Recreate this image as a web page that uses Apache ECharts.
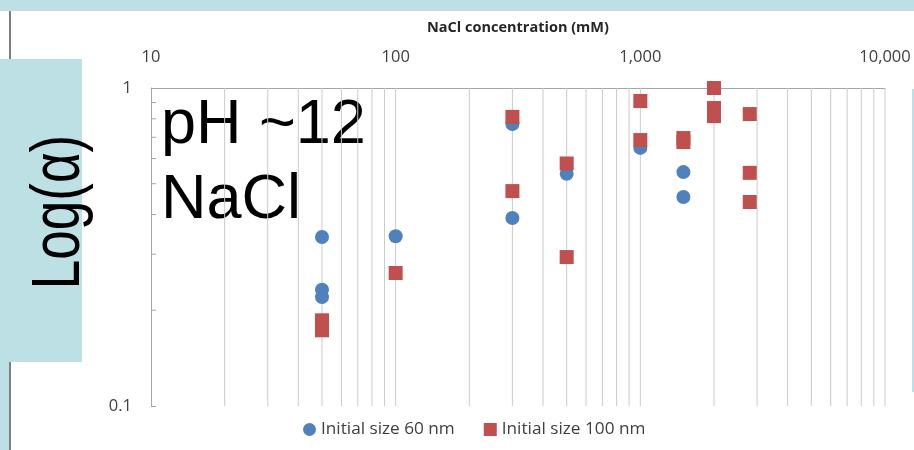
<!DOCTYPE html>
<html>
<head>
<meta charset="utf-8">
<script src="https://cdn.jsdelivr.net/npm/echarts@6/dist/echarts.min.js"></script>
<style>
  html, body { margin: 0; padding: 0; background: #ffffff; }
  #chart { width: 914px; height: 450px; }
</style>
</head>
<body>
<div id="chart"></div>
<script>
// NaCl concentration (mM) and attachment efficiency for the 60 nm particles
const conc60 = [50, 50, 50, 100, 300, 300, 500, 1000, 1500, 1500];
const alpha60 = [0.340, 0.232, 0.220, 0.342, 0.770, 0.390, 0.537, 0.648, 0.544, 0.454];

// NaCl concentration (mM) and attachment efficiency for the 100 nm particles
const conc100 = [50, 50, 100, 300, 300, 500, 500, 1000, 1000, 1500, 1500, 2000, 2000, 2000, 2800, 2800, 2800];
const alpha100 = [0.186, 0.173, 0.262, 0.811, 0.474, 0.579, 0.294, 0.910, 0.686, 0.696, 0.676, 1.0, 0.865, 0.816, 0.828, 0.541, 0.438];

const seriesNames = ['Initial size 60 nm', 'Initial size 100 nm'];

// Axis ticks and labels
const xTickValues = [10, 100, 1000, 10000];
const xTickLabels = ['10', '100', '1,000', '10,000'];
const yTickValues = [0.1, 1];
const yTickLabels = ['0.1', '1'];

// Vertical log-paper grid lines (every 1..9 step of each decade)
const xGridValues = [20, 30, 40, 50, 60, 70, 80, 90, 100,
  200, 300, 400, 500, 600, 700, 800, 900, 1000,
  2000, 3000, 4000, 5000, 6000, 7000, 8000, 9000, 10000];
// Minor ticks along the left axis
const yMinorTicks = [0.2, 0.3, 0.4, 0.5, 0.6, 0.7, 0.8, 0.9];

const xTitle = 'NaCl concentration (mM)';
const yTitle = 'Log(\u03b1)';
const noteLines = ['pH ~12', 'NaCl'];

const TEAL = '#bce0e3';
const AXIS_GRAY = '#a6a6a6';
const GRID_GRAY = '#cacaca';
const LABEL = '#404040';
const FONT = '"Open Sans", "Liberation Sans", sans-serif';

function labelFor(values, labels, v) {
  for (let i = 0; i < values.length; i++) {
    if (Math.abs(Math.log10(values[i]) - Math.log10(v)) < 1e-6) return labels[i];
  }
  return '';
}

const chart = echarts.init(document.getElementById('chart'), null, { renderer: 'canvas' });

chart.setOption({
  animation: false,
  backgroundColor: '#ffffff',
  grid: { left: 151, right: 29, top: 88, bottom: 44, containLabel: false },
  xAxis: {
    type: 'log',
    logBase: 10,
    min: 10,
    max: 10000,
    position: 'top',
    name: xTitle,
    nameLocation: 'middle',
    nameGap: 53,
    nameTextStyle: { fontFamily: FONT, fontSize: 14.5, fontWeight: 'bold', color: '#262626' },
    axisLine: { show: true, lineStyle: { color: AXIS_GRAY, width: 1 } },
    axisTick: { show: false },
    splitLine: { show: false },
    axisLabel: {
      margin: 22,
      fontFamily: FONT,
      fontSize: 16.5,
      color: LABEL,
      formatter: v => labelFor(xTickValues, xTickLabels, v)
    }
  },
  yAxis: {
    type: 'log',
    logBase: 10,
    min: 0.1,
    max: 1,
    axisLine: { show: true, lineStyle: { color: AXIS_GRAY, width: 1 } },
    axisTick: { show: true, inside: true, length: 5, lineStyle: { color: AXIS_GRAY } },
    splitLine: { show: false },
    axisLabel: {
      margin: 19,
      fontFamily: FONT,
      fontSize: 16.5,
      color: LABEL,
      formatter: v => labelFor(yTickValues, yTickLabels, v)
    }
  },
  legend: {
    data: seriesNames.map((n, i) => ({ name: n, icon: i === 0 ? 'circle' : 'rect' })),
    left: 298,
    top: 416,
    itemWidth: 13,
    itemHeight: 13,
    itemGap: 29,
    textStyle: { fontFamily: FONT, fontSize: 17.2, color: LABEL }
  },
  graphic: [
    // teal frame pieces
    { type: 'rect', shape: { x: 0, y: 0, width: 914, height: 11 }, style: { fill: TEAL }, silent: true },
    { type: 'rect', shape: { x: 0, y: 59, width: 82, height: 303 }, style: { fill: TEAL }, silent: true },
    { type: 'rect', shape: { x: 0, y: 362, width: 9, height: 88 }, style: { fill: TEAL }, silent: true },
    { type: 'rect', shape: { x: 912, y: 89, width: 2, height: 303 }, style: { fill: TEAL }, silent: true },
    { type: 'rect', shape: { x: 9, y: 11, width: 2, height: 48 }, style: { fill: '#7f7f7f' }, silent: true },
    { type: 'rect', shape: { x: 9, y: 362, width: 2, height: 88 }, style: { fill: '#7f7f7f' }, silent: true },
    // vertical axis title
    {
      type: 'text',
      x: 60,
      y: 212,
      rotation: Math.PI / 2,
      scaleX: 0.78,
      silent: true,
      style: {
        text: yTitle,
        fontFamily: '"Liberation Sans", Arial, sans-serif',
        fontSize: 68,
        fill: '#000000',
        align: 'center',
        verticalAlign: 'middle'
      }
    },
    // condition note
    {
      type: 'text', x: 161, y: 126, silent: true,
      style: { text: noteLines[0], fontFamily: '"Liberation Sans", Arial, sans-serif', fontSize: 63, fill: '#000000', align: 'left', verticalAlign: 'middle' }
    },
    {
      type: 'text', x: 161, y: 201, silent: true,
      style: { text: noteLines[1], fontFamily: '"Liberation Sans", Arial, sans-serif', fontSize: 63, fill: '#000000', align: 'left', verticalAlign: 'middle' }
    }
  ],
  series: [
    {
      name: 'gridlines',
      type: 'custom',
      silent: true,
      z: 1,
      encode: { x: 0, y: 1 },
      data: xGridValues.map(v => [v, 1]),
      renderItem: (params, api) => {
        const v = api.value(0);
        const top = api.coord([v, 1]);
        const bottom = api.coord([v, 0.1]);
        return {
          type: 'line',
          shape: { x1: top[0], y1: top[1], x2: bottom[0], y2: bottom[1] },
          style: { stroke: GRID_GRAY, lineWidth: 1 }
        };
      }
    },
    {
      name: 'yminor',
      type: 'custom',
      silent: true,
      z: 3,
      encode: { x: 0, y: 1 },
      data: yMinorTicks.map(v => [10, v]),
      renderItem: (params, api) => {
        const p = api.coord([10, api.value(1)]);
        return {
          type: 'line',
          shape: { x1: p[0], y1: p[1], x2: p[0] + 5, y2: p[1] },
          style: { stroke: AXIS_GRAY, lineWidth: 1 }
        };
      }
    },
    {
      name: seriesNames[0],
      type: 'scatter',
      symbol: 'circle',
      symbolSize: 14,
      clip: false,
      z: 5,
      itemStyle: { color: '#4f81bd', opacity: 1 },
      data: conc60.map((c, i) => [c, alpha60[i]])
    },
    {
      name: seriesNames[1],
      type: 'scatter',
      symbol: 'rect',
      symbolSize: 14,
      clip: false,
      z: 6,
      itemStyle: { color: '#c0504d', opacity: 1 },
      data: conc100.map((c, i) => [c, alpha100[i]])
    }
  ]
});
</script>
</body>
</html>
